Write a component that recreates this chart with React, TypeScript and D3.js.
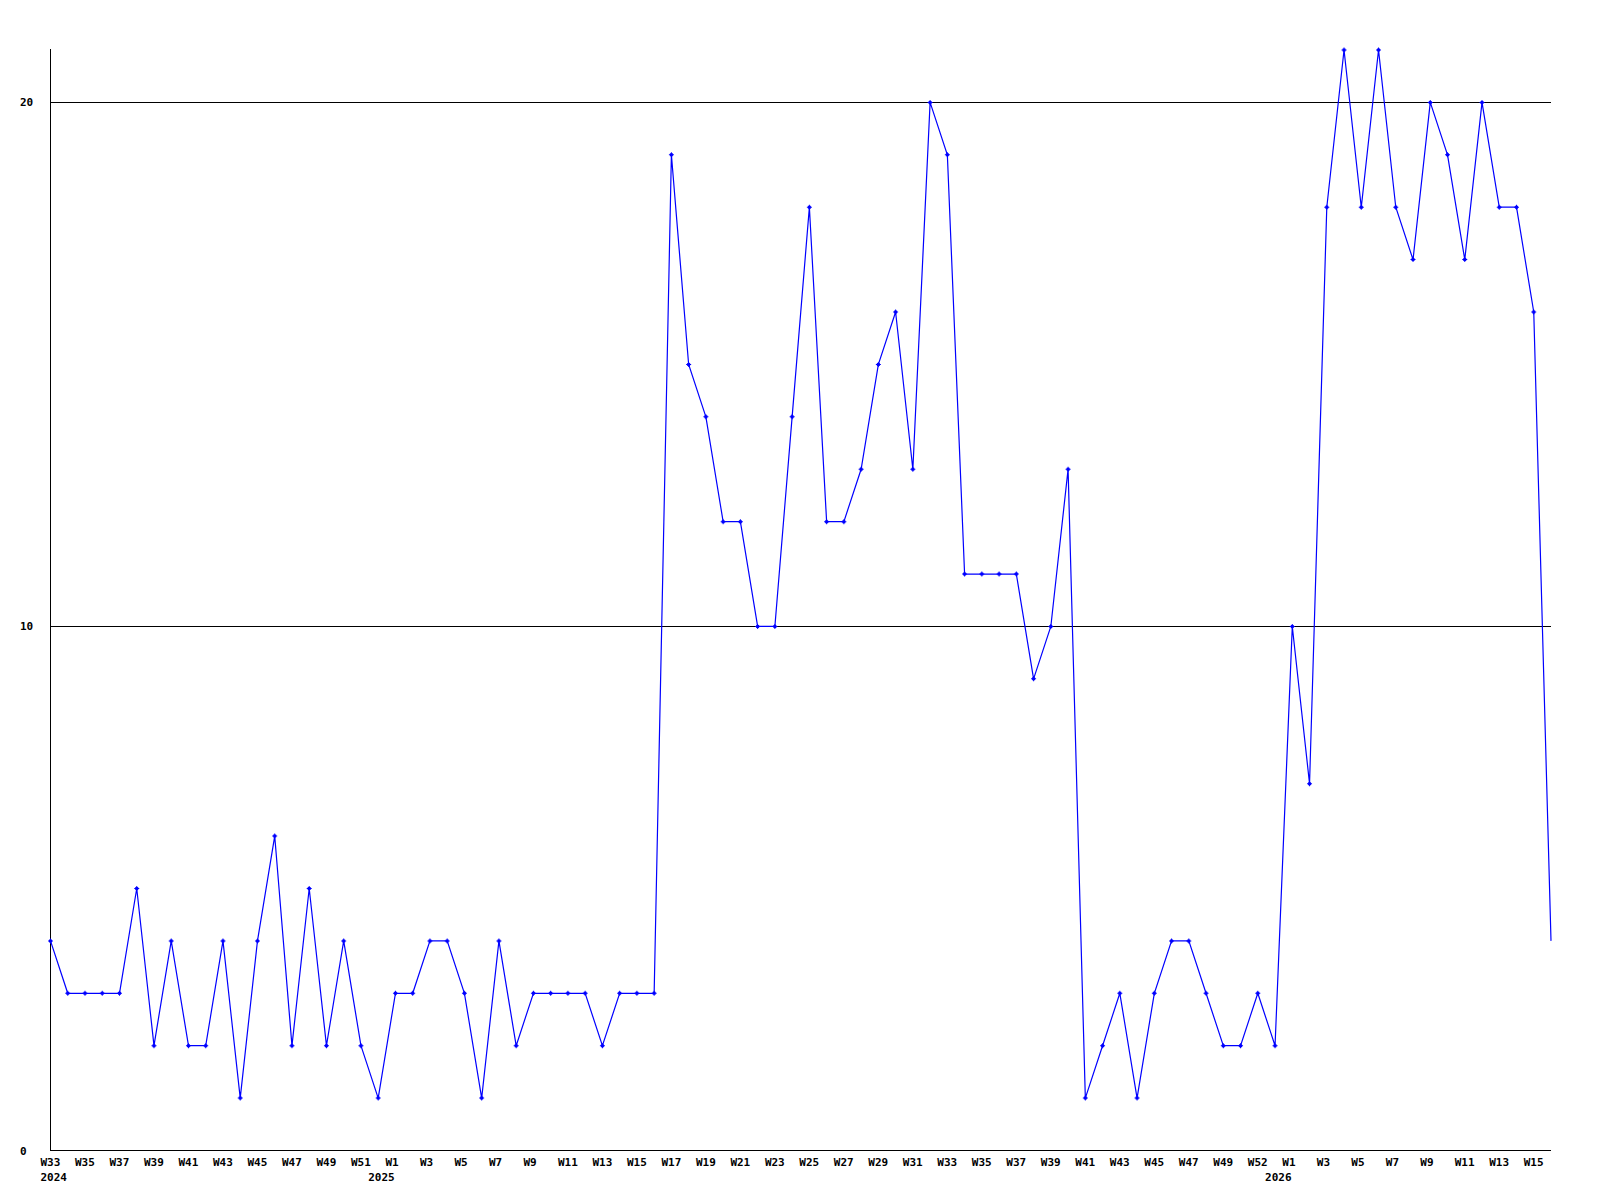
import React from "react";
import * as d3 from "d3";

// weekly values, W33 2024 .. W16 2026
const values: number[] = [
  4, 3, 3, 3, 3, 5, 2, 4, 2, 2, 4, 1, 4, 6, 2, 5, 2, 4, 2, 1,
  3, 3, 4, 4, 3, 1, 4, 2, 3, 3, 3, 3, 2, 3, 3, 3, 19, 15, 14, 12,
  12, 10, 10, 14, 18, 12, 12, 13, 15, 16, 13, 20, 19, 11, 11, 11, 11, 9, 10, 13,
  1, 2, 3, 1, 3, 4, 4, 3, 2, 2, 3, 2, 10, 7, 18, 21, 18, 21, 18, 17,
  20, 19, 17, 20, 18, 18, 16, 4,
];

// x tick labels, one on every second week
const tickLabels: string[] = [
  "W33", "W35", "W37", "W39", "W41", "W43", "W45", "W47", "W49", "W51",
  "W1", "W3", "W5", "W7", "W9", "W11", "W13", "W15", "W17", "W19", "W21", "W23", "W25",
  "W27", "W29", "W31", "W33", "W35", "W37", "W39", "W41", "W43", "W45", "W47", "W49", "W52",
  "W1", "W3", "W5", "W7", "W9", "W11", "W13", "W15",
];

// year labels and the week index they sit under
const yearLabels: string[] = ["2024", "2025", "2026"];
const yearIndex: number[] = [0, 19, 71];

const yTicks: number[] = [0, 10, 20];
const gridValues: number[] = [10, 20];

export default function App() {
  const W = 1600;
  const H = 1200;
  const x = d3.scaleLinear().domain([0, values.length - 1]).range([50.5, 1551]);
  const y = d3.scaleLinear().domain([0, 21]).range([1150.5, 50]);
  const line = d3
    .line<number>()
    .x((_, i) => x(i))
    .y((d) => y(d));
  const font = "'DejaVu Sans Mono', monospace";
  const marker =
    "M-1.5,-1.5h3v3h-3z M-2.5,-0.5h5v1h-5z M-0.5,-2.5h1v5h-1z";
  return (
    <svg
      width={W}
      height={H}
      style={{ position: "absolute", left: 0, top: 0, background: "#fff" }}
    >
      <rect x={0} y={0} width={W} height={H} fill="#fff" />
      {gridValues.map((g) => (
        <line
          key={g}
          x1={50}
          x2={1551}
          y1={Math.round(y(g)) + 0.5}
          y2={Math.round(y(g)) + 0.5}
          stroke="#000"
          strokeWidth={1}
        />
      ))}
      <line x1={50.5} x2={50.5} y1={49} y2={1150.5} stroke="#000" strokeWidth={1} />
      <line x1={50} x2={1551} y1={1150.5} y2={1150.5} stroke="#000" strokeWidth={1} />
      {yTicks.map((t) => (
        <text
          key={t}
          x={20}
          y={y(t) + 4}
          fontFamily={font}
          fontWeight="bold"
          fontSize={11}
          fill="#000"
        >
          {t}
        </text>
      ))}
      {tickLabels.map((lbl, k) => (
        <text
          key={k}
          x={x(k * 2) - 10}
          y={1166}
          fontFamily={font}
          fontWeight="bold"
          fontSize={11}
          fill="#000"
        >
          {lbl}
        </text>
      ))}
      {yearLabels.map((yl, k) => (
        <text
          key={yl}
          x={x(yearIndex[k]) - 10}
          y={1181}
          fontFamily={font}
          fontWeight="bold"
          fontSize={11}
          fill="#000"
        >
          {yl}
        </text>
      ))}
      <path d={line(values) || ""} fill="none" stroke="#0000ff" strokeWidth={1.2} />
      {values.slice(0, values.length - 1).map((v, i) => (
        <path
          key={i}
          d={marker}
          transform={`translate(${x(i)},${y(v)})`}
          fill="#0000ff"
        />
      ))}
    </svg>
  );
}
